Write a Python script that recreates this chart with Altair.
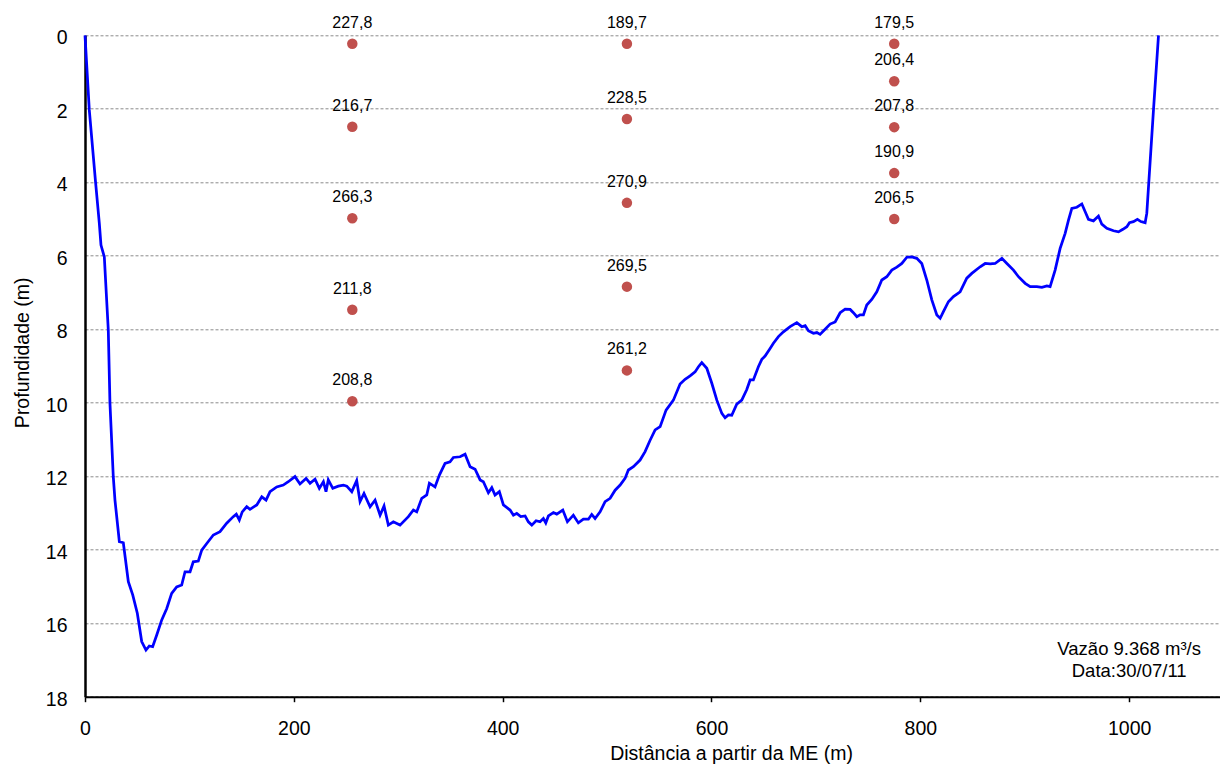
import altair as alt
import pandas as pd

# Cross-section bed profile: distance from the left bank (m) and depth (m)
profile_dist = [
    0, 4.1, 10.2, 13.7, 15.3, 18.5, 22.3, 23.9, 27.1, 28.7, 32.9, 36.7, 41.5, 45.7,
    50.1, 54.3, 58.4, 61.6, 64.8, 68.7, 73.5, 78.3, 83.0, 87.8, 92.6, 95.8, 100.6,
    103.7, 108.5, 111.8, 116.6, 122.9, 129.3, 135.7, 142.0, 144.9, 147.8, 150.6,
    154.9, 158.0, 164.5, 169.3, 173.4, 177.2, 183.6, 189.9, 194.7, 201.1, 205.9,
    211.7, 215.5, 220.3, 224.4, 228.3, 230.8, 233.0, 237.3, 242.6, 247.4, 250.7,
    255.5, 260.2, 263.4, 267.2, 273.0, 277.8, 282.6, 286.4, 290.5, 295.3, 301.7,
    309.7, 314.5, 317.7, 322.5, 327.3, 329.8, 335.2, 339.4, 344.8, 349.6, 352.8,
    359.2, 364.0, 368.8, 373.6, 378.4, 381.5, 386.3, 389.6, 392.7, 396.8, 400.7,
    407.1, 410.3, 413.5, 417.3, 421.5, 424.6, 427.9, 432.0, 435.8, 439.0, 441.3,
    443.8, 448.6, 451.8, 457.6, 462.0, 467.7, 472.5, 477.3, 482.1, 485.3, 488.5,
    493.3, 498.1, 502.9, 507.7, 512.5, 517.2, 520.4, 525.2, 531.6, 536.4, 541.2,
    546.0, 550.8, 556.5, 563.5, 569.9, 574.7, 579.5, 584.3, 587.5, 590.7, 595.5,
    600.3, 605.1, 609.9, 613.0, 616.2, 619.4, 624.2, 629.0, 633.8, 637.0, 640.1,
    644.9, 648.2, 651.3, 655.5, 659.3, 664.1, 668.9, 675.3, 681.7, 686.5, 689.7,
    692.8, 697.6, 700.9, 704.0, 708.8, 713.6, 718.4, 723.2, 728.0, 732.8, 735.9,
    739.2, 742.3, 745.5, 748.7, 753.5, 758.3, 763.1, 767.9, 772.7, 777.5, 782.3,
    787.1, 791.9, 796.6, 801.4, 806.2, 811.0, 815.8, 819.0, 822.1, 826.9, 831.7,
    838.1, 844.5, 849.3, 857.3, 862.1, 866.9, 871.6, 878.1, 882.9, 889.2, 894.0,
    900.4, 905.2, 911.6, 916.4, 921.2, 924.3, 929.1, 933.9, 938.7, 941.9, 945.1,
    949.9, 954.7, 957.9, 961.0, 965.8, 970.6, 973.8, 978.6, 985.0, 989.8, 994.0,
    997.8, 1000.3, 1004.1, 1007.9, 1011.2, 1015.3, 1016.9, 1023.3, 1028.1,
]
profile_depth = [
    0, 2.03, 4.02, 5.11, 5.71, 6.03, 8.02, 10.01, 12.02, 12.65, 13.78, 13.81, 14.87,
    15.23, 15.73, 16.50, 16.73, 16.62, 16.64, 16.32, 15.91, 15.60, 15.19, 15.01,
    14.96, 14.60, 14.60, 14.33, 14.31, 14.01, 13.83, 13.60, 13.51, 13.28, 13.10,
    13.03, 13.19, 12.97, 12.83, 12.90, 12.78, 12.56, 12.65, 12.42, 12.29, 12.24,
    12.15, 12.01, 12.21, 12.06, 12.19, 12.08, 12.33, 12.15, 12.42, 12.10, 12.33,
    12.27, 12.24, 12.27, 12.42, 12.12, 12.69, 12.47, 12.83, 12.65, 13.06, 12.81,
    13.33, 13.24, 13.33, 13.10, 12.92, 12.97, 12.60, 12.51, 12.19, 12.29, 11.97,
    11.65, 11.61, 11.49, 11.47, 11.40, 11.74, 11.81, 12.10, 12.15, 12.45, 12.31,
    12.51, 12.42, 12.78, 12.92, 13.06, 13.01, 13.10, 13.08, 13.24, 13.33, 13.21,
    13.24, 13.15, 13.27, 13.08, 12.99, 13.03, 12.92, 13.24, 13.06, 13.27, 13.17,
    13.17, 13.04, 13.15, 12.97, 12.69, 12.60, 12.38, 12.24, 12.06, 11.83, 11.74,
    11.56, 11.33, 11.02, 10.74, 10.65, 10.20, 9.93, 9.49, 9.36, 9.27, 9.16, 9.02,
    8.91, 9.06, 9.47, 9.93, 10.29, 10.41, 10.33, 10.34, 10.04, 9.93, 9.64, 9.38,
    9.38, 9.02, 8.82, 8.73, 8.55, 8.38, 8.20, 8.07, 7.93, 7.82, 7.93, 7.90, 8.04,
    8.11, 8.09, 8.14, 8.00, 7.86, 7.80, 7.55, 7.45, 7.46, 7.55, 7.66, 7.61, 7.61,
    7.34, 7.19, 6.98, 6.66, 6.57, 6.39, 6.31, 6.21, 6.04, 6.03, 6.07, 6.21, 6.66,
    7.20, 7.61, 7.70, 7.52, 7.25, 7.11, 6.98, 6.61, 6.48, 6.30, 6.21, 6.22, 6.21,
    6.07, 6.21, 6.39, 6.57, 6.75, 6.84, 6.84, 6.86, 6.82, 6.84, 6.39, 5.80, 5.39,
    5.03, 4.71, 4.68, 4.59, 4.80, 5.01, 5.05, 4.92, 5.14, 5.25, 5.32, 5.35, 5.28,
    5.21, 5.10, 5.07, 5.01, 5.07, 5.10, 4.84, 2.03, 0,
]

# Velocity sampling points on three verticals (distance, depth, velocity)
point_dist = [256] * 5 + [519] * 5 + [775] * 5
point_depth = [
    0.23, 2.49, 4.98, 7.47, 9.96,
    0.23, 2.28, 4.56, 6.84, 9.12,
    0.23, 1.25, 2.50, 3.75, 5.00,
]
point_value = [
    227.8, 216.7, 266.3, 211.8, 208.8,
    189.7, 228.5, 270.9, 269.5, 261.2,
    179.5, 206.4, 207.8, 190.9, 206.5,
]

# Survey note placed inside the plot
note_lines = ["Vazão 9.368 m³/s", "Data:30/07/11"]
note_dist = [1000, 1000]
note_depth = [16.87, 17.47]

x_ticks = [0, 200, 400, 600, 800, 1000]
y_ticks = [0, 2, 4, 6, 8, 10, 12, 14, 16, 18]

FONT = "Liberation Sans"
AXIS_FS = 19.5

profile = pd.DataFrame({
    "idx": list(range(len(profile_dist))),
    "dist": profile_dist,
    "depth": profile_depth,
})
points = pd.DataFrame({
    "dist": point_dist,
    "depth": point_depth,
    "label": [f"{v:.1f}".replace(".", ",") for v in point_value],
})
notes = pd.DataFrame({"dist": note_dist, "depth": note_depth, "text": note_lines})

x_enc = alt.X(
    "dist:Q",
    scale=alt.Scale(domain=[0, 1087], nice=False, zero=False),
    axis=alt.Axis(
        values=x_ticks,
        format="d",
        title="Distância a partir da ME (m)",
        grid=False,
        domainColor="black",
        domainWidth=2,
        ticks=True,
        tickColor="black",
        tickSize=5,
        tickWidth=1.5,
        labelFont=FONT,
        labelFontSize=AXIS_FS,
        labelColor="black",
        labelPadding=18,
        labelFlush=False,
        titleFont=FONT,
        titleFontSize=AXIS_FS,
        titleFontWeight="normal",
        titleColor="black",
        titleX=646,
        titleY=63,
        titleAlign="center",
        titleBaseline="alphabetic",
    ),
)
y_enc = alt.Y(
    "depth:Q",
    scale=alt.Scale(domain=[0, 18], reverse=True, nice=False, zero=False),
    axis=alt.Axis(
        values=y_ticks,
        format="d",
        title="Profundidade (m)",
        grid=True,
        gridColor="#8a8a8a",
        gridDash=[3, 2],
        gridWidth=1,
        domainColor="black",
        domainWidth=2.5,
        ticks=False,
        tickSize=0,
        labelFont=FONT,
        labelFontSize=AXIS_FS,
        labelColor="black",
        labelPadding=18,
        labelOffset=2.5,
        titleFont=FONT,
        titleFontSize=AXIS_FS,
        titleFontWeight="normal",
        titleColor="black",
        titleAngle=270,
        titleX=-57,
        titleY=317,
        titleAlign="center",
        titleBaseline="alphabetic",
    ),
)

bed = alt.Chart(profile).mark_line(color="#0000FF", strokeWidth=2.75).encode(
    x=x_enc, y=y_enc, order="idx:Q"
)

dots = alt.Chart(points).mark_circle(color="#C0504D", size=110, opacity=1).encode(
    x=x_enc, y=y_enc
)

dot_labels = alt.Chart(points).mark_text(
    font=FONT, fontSize=16, color="black", dy=-16, baseline="alphabetic", align="center"
).encode(x=x_enc, y=y_enc, text="label:N")

note = alt.Chart(notes).mark_text(
    font=FONT, fontSize=18.5, color="black", baseline="alphabetic", align="center"
).encode(x=x_enc, y=y_enc, text="text:N")

chart = (
    alt.layer(bed, dots, dot_labels, note)
    .properties(
        width=1135,
        height=661.4,
        autosize=alt.AutoSizeParams(type="none"),
        padding={"left": 85, "top": 35.3, "right": 0, "bottom": 68.3},
        background="white",
    )
    .configure_view(stroke=None)
)

chart.save("out.html", embed_options={"renderer": "svg", "actions": False})
